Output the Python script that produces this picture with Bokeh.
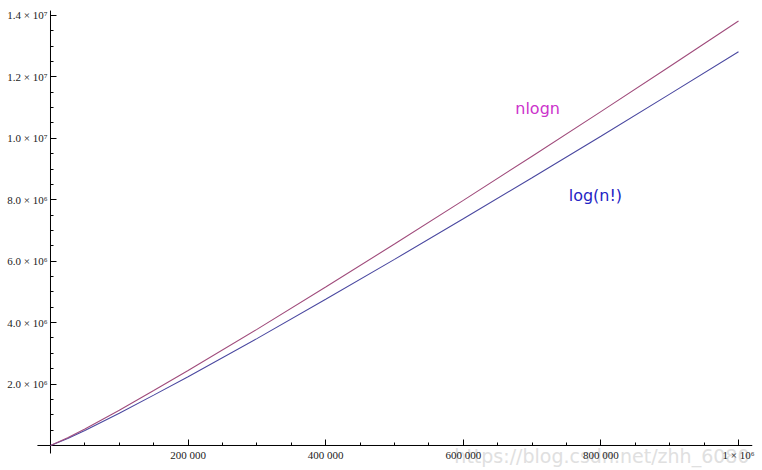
from bokeh.plotting import figure
from bokeh.models import ColumnDataSource, FixedTicker, Range1d, Label
from bokeh.embed import file_html
from bokeh.resources import INLINE

# ---- data ----
n_values = [0, 25000, 50000, 100000, 150000, 200000, 300000, 400000,
            500000, 600000, 700000, 800000, 900000, 1000000]
nlogn_millions = [0, 0.25, 0.54, 1.15, 1.79, 2.44, 3.78, 5.16,
                  6.56, 7.98, 9.42, 10.87, 12.34, 13.82]
logfact_millions = [0, 0.23, 0.49, 1.05, 1.64, 2.24, 3.48, 4.76,
                    6.06, 7.38, 8.72, 10.07, 11.44, 12.82]

x_major = [200000, 400000, 600000, 800000, 1000000]
x_labels = ["200 000", "400 000", "600 000", "800 000", "1 × 10⁶"]
y_major = [2e6, 4e6, 6e6, 8e6, 10e6, 12e6, 14e6]
y_labels = ["2.0 × 10⁶", "4.0 × 10⁶", "6.0 × 10⁶", "8.0 × 10⁶",
            "1.0 × 10⁷", "1.2 × 10⁷", "1.4 × 10⁷"]
x_minor = [k * 50000 for k in range(1, 21)]
y_minor = [k * 500000 for k in range(1, 29)]

src = ColumnDataSource(dict(
    n=n_values,
    nlogn=[v * 1e6 for v in nlogn_millions],
    logfact=[v * 1e6 for v in logfact_millions],
))

p = figure(width=762, height=470, output_backend="svg", toolbar_location=None,
           x_range=Range1d(-72674, 1034884), y_range=Range1d(-813950, 14488000),
           min_border=0)
p.outline_line_color = None
p.grid.visible = False
p.background_fill_color = "white"

# faint watermark, beneath everything
p.add_layout(Label(x=587000, y=-350000, text="https://blog.csdn.net/zhh_6080",
                   text_align="left", text_baseline="alphabetic",
                   text_color="#e0e0e0", level="underlay",
                   text_font="DejaVu Sans", text_font_size="19px"))

# axis lines (limited extent, as in the reference)
p.segment(x0=[-19000], y0=[0], x1=[1020000], y1=[0], color="black", line_width=1)
p.segment(x0=[0], y0=[-260000], x1=[0], y1=[14160000], color="black", line_width=1)

p.line("n", "logfact", source=src, color="#4A48A0", line_width=1.1)
p.line("n", "nlogn", source=src, color="#A04C7C", line_width=1.1)

for ax, major, labels, minor in ((p.xaxis[0], x_major, x_labels, x_minor),
                                 (p.yaxis[0], y_major, y_labels, y_minor)):
    ax.fixed_location = 0
    ax.ticker = FixedTicker(ticks=major, minor_ticks=minor)
    ax.major_label_overrides = {m: l for m, l in zip(major, labels)}
    ax.major_tick_in = 6
    ax.major_tick_out = 0
    ax.minor_tick_in = 3
    ax.minor_tick_out = 0
    ax.axis_line_color = None
    ax.major_tick_line_color = "black"
    ax.minor_tick_line_color = "black"
    ax.major_label_text_font = "'Liberation Serif', serif"
    ax.major_label_text_font_size = "11px"
    ax.major_label_text_color = "#222222"
p.yaxis[0].major_label_standoff = 3
p.xaxis[0].major_label_standoff = 4

p.add_layout(Label(x=708000, y=10970000, text="nlogn", text_align="center",
                   text_baseline="middle", text_color="#CC33CC",
                   text_font="DejaVu Sans", text_font_size="16px"))
p.add_layout(Label(x=792000, y=8140000, text="log(n!)", text_align="center",
                   text_baseline="middle", text_color="#2424C4",
                   text_font="DejaVu Sans", text_font_size="16px"))

open("out.html", "w").write(file_html(p, INLINE))
